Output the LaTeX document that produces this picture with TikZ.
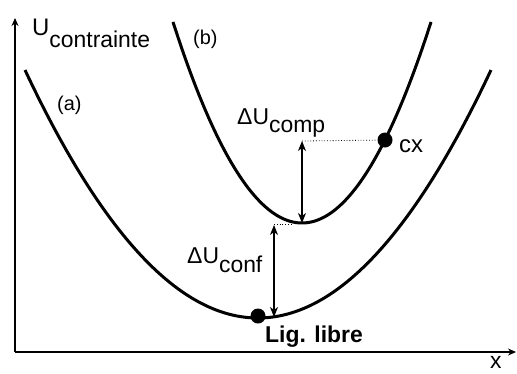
\documentclass[tikz,border=0pt]{standalone}
\usepackage{fontspec}
\setmainfont{Liberation Sans}
\usetikzlibrary{arrows.meta}
\begin{document}
\begin{tikzpicture}[x=1bp,y=-1bp,
  curve/.style={line width=3bp},
  axis/.style={line width=1.3bp,-{Stealth[length=8bp,width=7bp]}},
  dim/.style={line width=1.2bp,{Stealth[length=10bp,width=8bp,inset=3bp]}-{Stealth[length=10bp,width=8bp,inset=3bp]}},
  guide/.style={line width=0.8bp,dotted},
  dot/.style={circle,fill=black,inner sep=0pt,minimum size=15bp},
  lbl/.style={inner sep=0pt,anchor=base west,font=\fontsize{23}{23}\selectfont},
  blbl/.style={lbl,font=\fontsize{23}{23}\selectfont\bfseries}]
\useasboundingbox (0,0) rectangle (517,373);
\coordinate (O) at (15,352);
\coordinate (ytop) at (15,18);
\coordinate (xend) at (516,352);
\draw[axis] (O) -- (ytop);
\draw[axis] (O) -- (xend);
% curves
\draw[curve] plot[domain=25:491,samples=120,smooth] (\x,{318-45.68*((\x-258)/100)^2});
\draw[curve] plot[domain=173:431,samples=100,smooth] (\x,{223-120.8*((\x-302)/100)^2});
% guides and dimension arrows
\coordinate (ctop) at (302,141);
\coordinate (bmin) at (302,223);
\coordinate (conftop) at (274,225);
\coordinate (confbot) at (274,317);
\coordinate (bleft) at (292,224);
\node[dot] (cx) at (385,140) {};
\node[dot] (lig) at (258,316) {};
\draw[guide] (ctop) -- (cx);
\draw[guide] (274,224) -- (bleft);
\draw[dim] (ctop) -- (bmin);
\draw[dim] (conftop) -- (confbot);
% labels
\node[lbl] (ulab) at (32,35) {{\fontsize{24}{24}\selectfont U}\raisebox{-12bp}{contrainte}};
\node[lbl,font=\fontsize{20}{20}\selectfont] (la) at (57,110) {(a)};
\node[lbl,font=\fontsize{20}{20}\selectfont] (lb) at (193,44) {(b)};
\node[lbl] (dcomp) at (237,124) {ΔU\raisebox{-8bp}{comp}};
\node[lbl] (dconf) at (187,263) {ΔU\raisebox{-9bp}{conf}};
\node[lbl,font=\fontsize{24}{24}\selectfont] (cxl) at (399,152) {cx};
\node[blbl] (ligl) at (265,342) {Lig. libre};
\node[lbl] (xl) at (490,368) {x};
\end{tikzpicture}
\end{document}
